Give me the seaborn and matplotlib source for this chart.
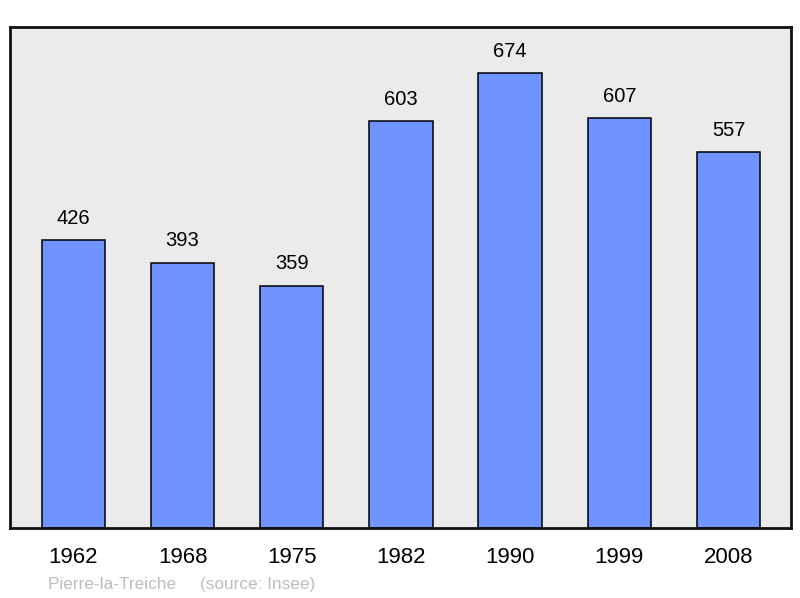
import matplotlib
matplotlib.use("Agg")
import matplotlib.pyplot as plt
import seaborn as sns
import pandas as pd

years = ["1962", "1968", "1975", "1982", "1990", "1999", "2008"]
population = [426, 393, 359, 603, 674, 607, 557]

df = pd.DataFrame({"year": years, "population": population})

sns.set_style("white")
plt.rcParams["font.family"] = ["Liberation Sans", "DejaVu Sans"]

fig = plt.figure(figsize=(8, 5.98), dpi=100)
ax = fig.add_axes([0.0125, 0.117, 0.976, 0.838])
ax.set_facecolor("#ebebeb")

sns.barplot(data=df, x="year", y="population", color="#7094ff",
            saturation=1, width=0.58, edgecolor="black", linewidth=1.1, ax=ax)

for i, v in enumerate(population):
    ax.text(i, v + 18, str(v), ha="center", va="bottom", fontsize=14.5, color="black")

ax.set_xlim(-0.58, 6.57)
ax.set_ylim(0, 742)
ax.set_yticks([])
ax.set_xlabel("")
ax.set_ylabel("")
ax.tick_params(axis="x", length=0, labelsize=16, pad=14, labelcolor="black")
for s in ax.spines.values():
    s.set_visible(True)
    s.set_linewidth(2)
    s.set_color("#111111")

fig.text(0.06, 0.015, "Pierre-la-Treiche     (source: Insee)", color="#bdbdbd",
         fontsize=12.4, ha="left", va="baseline")

fig.savefig("out.png", dpi=100)
